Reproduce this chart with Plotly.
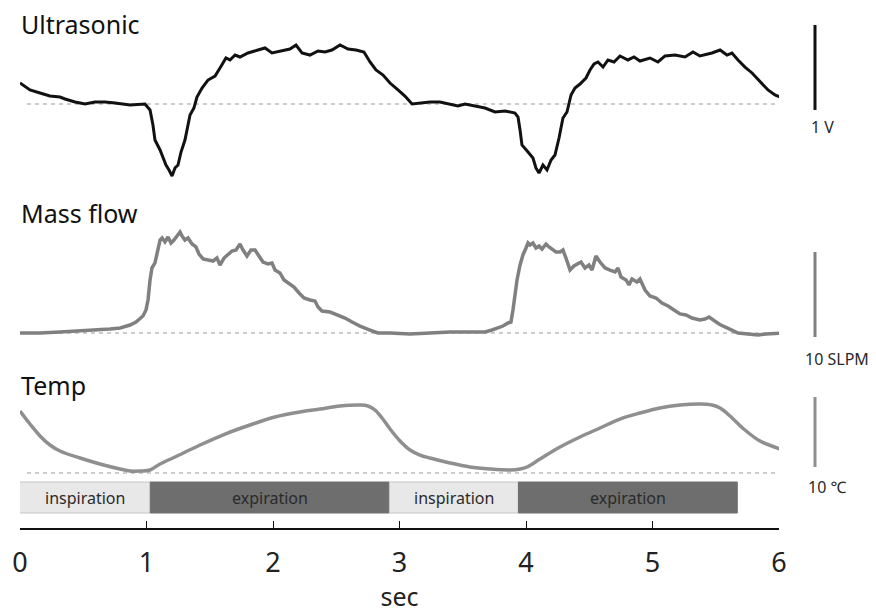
import plotly.graph_objects as go

# ---------------- data ----------------
# Ultrasonic signal, volts relative to baseline
us_t = [0.000, 0.079, 0.158, 0.237, 0.316, 0.356, 0.435, 0.514, 0.593, 0.672, 0.751, 0.870, 0.988,
        1.028, 1.051, 1.067, 1.107, 1.130, 1.154, 1.178, 1.202, 1.225, 1.249, 1.273, 1.304, 1.344,
        1.375, 1.399, 1.439, 1.486, 1.542, 1.581, 1.628, 1.660, 1.700, 1.739, 1.802, 1.881, 1.937,
        1.992, 2.055, 2.134, 2.182, 2.229, 2.292, 2.356, 2.411, 2.466, 2.530, 2.593, 2.656, 2.719,
        2.767, 2.814, 2.870, 2.925, 2.988, 3.043, 3.099, 3.162, 3.241, 3.320, 3.399, 3.462, 3.518,
        3.597, 3.676, 3.755, 3.834, 3.913, 3.937, 3.953, 3.968, 4.016, 4.055, 4.079, 4.103, 4.134,
        4.166, 4.198, 4.229, 4.261, 4.292, 4.324, 4.356, 4.387, 4.427, 4.474, 4.506, 4.538, 4.569,
        4.609, 4.648, 4.696, 4.743, 4.806, 4.854, 4.901, 4.980, 5.043, 5.099, 5.178, 5.257, 5.320,
        5.375, 5.470, 5.534, 5.589, 5.628, 5.676, 5.731, 5.787, 5.850, 5.913, 5.968, 6.008]
us_v = [0.247, 0.165, 0.129, 0.094, 0.082, 0.059, 0.024, 0.000, 0.024, 0.024, 0.012, -0.012, 0.000,
        -0.071, -0.247, -0.424, -0.541, -0.635, -0.718, -0.776, -0.847, -0.753, -0.718, -0.565, -0.424, -0.129,
        -0.047, 0.082, 0.188, 0.282, 0.329, 0.424, 0.541, 0.518, 0.576, 0.553, 0.600, 0.635, 0.659,
        0.600, 0.624, 0.647, 0.694, 0.600, 0.576, 0.624, 0.612, 0.635, 0.694, 0.647, 0.635, 0.612,
        0.494, 0.400, 0.341, 0.247, 0.165, 0.094, 0.000, 0.012, 0.024, 0.024, 0.000, -0.024, 0.000,
        -0.024, -0.047, -0.094, -0.082, -0.106, -0.153, -0.306, -0.482, -0.565, -0.635, -0.753, -0.812, -0.718,
        -0.776, -0.659, -0.600, -0.400, -0.165, -0.094, 0.106, 0.188, 0.235, 0.306, 0.400, 0.471, 0.494,
        0.435, 0.518, 0.494, 0.565, 0.518, 0.553, 0.506, 0.541, 0.494, 0.565, 0.576, 0.553, 0.612,
        0.565, 0.600, 0.635, 0.576, 0.600, 0.518, 0.435, 0.365, 0.259, 0.165, 0.106, 0.082]

# Mass flow, SLPM
mf_t = [0.000, 0.158, 0.316, 0.474, 0.632, 0.711, 0.791, 0.870, 0.917, 0.949, 0.972, 0.996, 1.012,
        1.028, 1.043, 1.067, 1.091, 1.107, 1.123, 1.146, 1.170, 1.194, 1.217, 1.241, 1.265, 1.281,
        1.304, 1.328, 1.360, 1.391, 1.415, 1.447, 1.486, 1.526, 1.557, 1.581, 1.613, 1.644, 1.676,
        1.708, 1.739, 1.763, 1.794, 1.826, 1.858, 1.889, 1.921, 1.960, 1.992, 2.016, 2.055, 2.087,
        2.126, 2.166, 2.206, 2.245, 2.292, 2.332, 2.356, 2.387, 2.451, 2.514, 2.569, 2.625, 2.688,
        2.767, 2.830, 2.925, 3.083, 3.241, 3.399, 3.557, 3.676, 3.731, 3.779, 3.818, 3.858, 3.881,
        3.897, 3.913, 3.929, 3.953, 3.976, 4.000, 4.016, 4.032, 4.055, 4.079, 4.103, 4.127, 4.158,
        4.182, 4.206, 4.237, 4.269, 4.292, 4.316, 4.348, 4.379, 4.411, 4.435, 4.466, 4.498, 4.522,
        4.553, 4.585, 4.625, 4.664, 4.704, 4.727, 4.751, 4.791, 4.814, 4.838, 4.877, 4.901, 4.941,
        4.980, 5.028, 5.075, 5.123, 5.170, 5.217, 5.265, 5.312, 5.375, 5.415, 5.447, 5.478, 5.526,
        5.573, 5.628, 5.676, 5.755, 5.834, 5.897, 5.968, 6.024]
mf_v = [0.00, 0.00, 0.12, 0.24, 0.35, 0.47, 0.59, 0.94, 1.29, 1.76, 2.00, 2.71, 3.88,
        6.24, 7.65, 8.24, 9.76, 10.94, 11.18, 10.71, 11.29, 10.59, 10.94, 11.41, 11.88, 11.41,
        10.94, 11.18, 10.47, 10.12, 9.29, 8.71, 8.59, 8.47, 8.82, 8.00, 8.82, 9.29, 9.65,
        9.76, 10.47, 9.76, 9.06, 9.76, 9.76, 9.06, 8.35, 8.12, 8.24, 7.41, 7.06, 6.24,
        5.88, 5.41, 4.71, 4.12, 3.88, 3.76, 3.06, 2.59, 2.47, 2.12, 1.76, 1.29, 0.82,
        0.35, 0.00, 0.00, -0.12, 0.00, 0.12, 0.12, 0.12, 0.35, 0.59, 0.82, 1.18, 1.29,
        2.71, 4.47, 6.24, 8.00, 9.18, 10.00, 10.59, 10.35, 10.59, 10.00, 10.24, 9.88, 10.47,
        10.12, 9.88, 9.53, 9.53, 9.76, 8.82, 7.41, 7.88, 8.12, 8.35, 7.65, 8.00, 7.41,
        9.06, 8.35, 7.65, 7.41, 7.18, 7.65, 6.59, 6.24, 5.65, 6.35, 6.00, 6.35, 5.06,
        4.35, 4.12, 3.53, 3.18, 2.71, 2.24, 2.12, 1.76, 1.53, 1.65, 1.88, 1.53, 1.06,
        0.71, 0.35, 0.00, -0.12, -0.24, -0.12, 0.00, 0.00]

# Temperature, degC relative to baseline
tp_t = [0.000, 0.079, 0.158, 0.237, 0.316, 0.474, 0.632, 0.791, 0.870, 0.949, 1.028, 1.107, 1.225,
        1.423, 1.621, 1.818, 2.016, 2.213, 2.372, 2.530, 2.688, 2.751, 2.806, 2.862, 2.925, 3.004,
        3.083, 3.162, 3.241, 3.399, 3.557, 3.715, 3.874, 3.953, 4.008, 4.111, 4.269, 4.427, 4.585,
        4.743, 4.901, 5.059, 5.217, 5.375, 5.470, 5.534, 5.613, 5.731, 5.850, 6.008]
tp_v = [8.86, 7.00, 5.29, 4.00, 3.14, 2.14, 1.29, 0.57, 0.29, 0.29, 0.43, 1.29, 2.29,
        4.00, 5.57, 6.86, 8.00, 8.71, 9.14, 9.57, 9.71, 9.57, 9.00, 7.86, 6.29, 4.57,
        3.29, 2.57, 2.14, 1.43, 0.86, 0.57, 0.43, 0.57, 0.86, 2.00, 3.71, 5.14, 6.43,
        7.71, 8.57, 9.29, 9.71, 9.86, 9.71, 9.29, 8.14, 6.14, 4.57, 3.43]

# Breathing phases
phase_start = [-0.02, 1.03, 2.92, 3.94]
phase_end = [1.03, 2.92, 3.94, 5.67]
phase_label = ["inspiration", "expiration", "inspiration", "expiration"]

x_ticks = [0, 1, 2, 3, 4, 5, 6]
baseline_t = [0.055, 5.98]

# ---------------- layout helpers ----------------
# the page body has an 8px margin, so the figure is drawn 8px smaller and
# positions are given in window pixels minus that offset
OFF = 8
W, H = 876 - OFF, 613 - OFF
FONT = "Noto Sans"

def px_x(px):
    return (px - OFF) / W

def paper_y(px):
    return 1 - (px - OFF) / H

def yrange(base_px, px_per_unit):
    b = base_px - OFF
    return [(b - H) / px_per_unit, b / px_per_unit]

fig = go.Figure()

dash_style = dict(color="#9a9a9a", width=1.2, dash="4px,4px")
for ax in ["y", "y2", "y3"]:
    fig.add_trace(go.Scatter(x=baseline_t, y=[0, 0], yaxis=ax, mode="lines",
                             line=dash_style, hoverinfo="skip", showlegend=False))

fig.add_trace(go.Scatter(x=us_t, y=us_v, yaxis="y", mode="lines",
                         line=dict(color="#111111", width=3), showlegend=False))
fig.add_trace(go.Scatter(x=mf_t, y=mf_v, yaxis="y2", mode="lines",
                         line=dict(color="#808080", width=3.5), showlegend=False))
fig.add_trace(go.Scatter(x=tp_t, y=tp_v, yaxis="y3", mode="lines", line_shape="spline",
                         line=dict(color="#8f8f8f", width=3.5), showlegend=False))

shapes = []
annotations = []
bar_y0, bar_y1 = paper_y(513), paper_y(482)
for s, e, lab in zip(phase_start, phase_end, phase_label):
    insp = lab == "inspiration"
    shapes.append(dict(type="rect", xref="x", yref="paper", x0=s, x1=e, y0=bar_y0, y1=bar_y1,
                       fillcolor="#e8e8e8" if insp else "#6e6e6e",
                       line=dict(color="#c4c4c4" if insp else "#6e6e6e", width=1), layer="below"))
    annotations.append(dict(x=(max(s, 0) + e) / 2, y=(bar_y0 + bar_y1) / 2, xref="x", yref="paper",
                            text=lab, showarrow=False, xanchor="center", yanchor="middle",
                            font=dict(family=FONT, size=16, color="#2a2a2a")))

# scale bars
bx = px_x(815)
shapes.append(dict(type="line", xref="paper", yref="y", x0=bx, x1=bx, y0=-0.07, y1=0.93,
                   line=dict(color="#111111", width=3)))
shapes.append(dict(type="line", xref="paper", yref="y2", x0=bx, x1=bx, y0=-0.47, y1=9.53,
                   line=dict(color="#808080", width=3)))
shapes.append(dict(type="line", xref="paper", yref="y3", x0=bx, x1=bx, y0=0.86, y1=10.86,
                   line=dict(color="#8f8f8f", width=3)))

for txt, xpx, ypx in [("1 V", 809, 127), ("10 SLPM", 803, 359), ("10 ℃", 806, 487)]:
    annotations.append(dict(x=px_x(xpx), y=paper_y(ypx), xref="paper", yref="paper", text=txt,
                            showarrow=False, xanchor="left", yanchor="middle",
                            font=dict(family=FONT, size=16, color="#2a2a2a")))

for txt, ypx in [("Ultrasonic", 24), ("Mass flow", 213), ("Temp", 385)]:
    annotations.append(dict(x=px_x(19), y=paper_y(ypx), xref="paper", yref="paper", text=txt,
                            showarrow=False, xanchor="left", yanchor="middle",
                            font=dict(family=FONT, size=25, color="#111111")))

hidden = dict(visible=False, domain=[0, 1], anchor="x", fixedrange=True)
fig.update_layout(
    width=W, height=H, margin=dict(l=0, r=0, t=0, b=0, autoexpand=False),
    paper_bgcolor="white", plot_bgcolor="white", showlegend=False,
    xaxis=dict(domain=[px_x(20), px_x(779)], range=[0, 6], anchor="free", position=paper_y(529),
               showline=True, linecolor="#111111", linewidth=2, ticks="inside", ticklen=7,
               tickwidth=1, tickcolor="#111111", tickvals=x_ticks, showgrid=False, zeroline=False,
               automargin=False,
               tickfont=dict(family=FONT, size=27, color="#222222"), ticklabelstandoff=10,
               title=dict(text="sec", font=dict(family=FONT, size=25, color="#222222"), standoff=8)),
    yaxis=dict(range=yrange(104, 85), **hidden),
    yaxis2=dict(range=yrange(333, 8.5), overlaying="y", **hidden),
    yaxis3=dict(range=yrange(473, 7), overlaying="y", **hidden),
    shapes=shapes, annotations=annotations,
)

fig.write_html("out.html")
